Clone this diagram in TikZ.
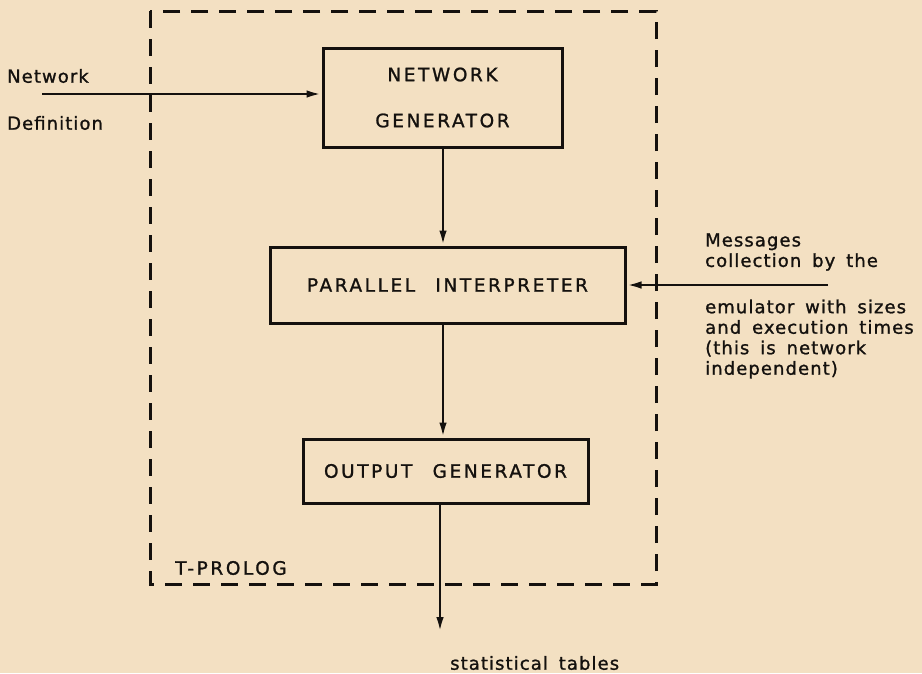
\documentclass[tikz,border=0pt]{standalone}
\usepackage{fontspec}
\setmainfont{DejaVu Sans}
\newfontfamily\capsfont[LetterSpace=14, WordSpace=2.4, FakeBold=1.2]{DejaVu Sans}
\newfontfamily\notefont[LetterSpace=6, WordSpace=1.6, FakeBold=1.2]{DejaVu Sans}
\usetikzlibrary{arrows.meta}
\definecolor{paper}{RGB}{243,224,194}
\definecolor{ink}{RGB}{20,17,14}
\tikzset{
  unitbox/.style={draw=ink, line width=3pt, text=ink, inner sep=0pt,
    font=\capsfont\fontsize{18.5}{20}\selectfont, align=center},
  flow/.style={draw=ink, line width=2.6pt, -{Latex[length=15pt,width=7.5pt]}},
  frame/.style={draw=ink, line width=3pt, dash pattern=on 17pt off 11pt},
  note/.style={text=ink, inner sep=0pt, align=left,
    font=\notefont\fontsize{18}{20.5}\selectfont},
  capnote/.style={text=ink, inner sep=0pt,
    font=\capsfont\fontsize{18.5}{20}\selectfont},
}
\begin{document}
\begin{tikzpicture}[x=1pt, y=-1pt]
  % page and paper tone
  \fill[paper] (0,0) rectangle (922,673);
  \useasboundingbox (0,0) rectangle (922,673);

  % T-PROLOG system boundary
  \draw[frame] (150,11) rectangle (656,584);
  \node[capnote, anchor=west] (tprolog) at (175,568) {T-PROLOG};

  % processing units
  \node[unitbox, minimum width=239pt, minimum height=99pt] (ng) at (442.5,97.5)
    {NETWORK\\[26pt]GENERATOR};
  \node[unitbox, minimum width=355pt, minimum height=76pt] (pi) at (447.5,285)
    {PARALLEL INTERPRETER};
  \node[unitbox, minimum width=285pt, minimum height=64pt] (og) at (445.5,471)
    {OUTPUT GENERATOR};

  % external inputs and output labels
  \node[note, anchor=west] (netlbl) at (7,76) {Network};
  \node[note, anchor=west] (deflbl) at (7,123) {Definition};
  \node[note, anchor=west] (msgtop) at (705,252) {Messages\\collection by the};
  \node[note, anchor=west] (msgbot) at (705,339)
    {emulator with sizes\\and execution times\\(this is network\\independent)};
  \node[note, anchor=west] (stats) at (450,663) {statistical tables};

  % connector end points
  \coordinate (netin) at (42,94);
  \coordinate (msgin) at (828,285);
  \coordinate (mainx) at (443,0);
  \coordinate (statout) at (440,632);

  % data flow
  \draw[flow] (netin) -- (netin -| ng.west);
  \draw[flow] (ng.south -| mainx) -- (pi.north -| mainx);
  \draw[flow] (msgin) -- (pi.east);
  \draw[flow] (pi.south -| mainx) -- (og.north -| mainx);
  \draw[flow] (og.south -| statout) -- (statout);
\end{tikzpicture}
\end{document}
